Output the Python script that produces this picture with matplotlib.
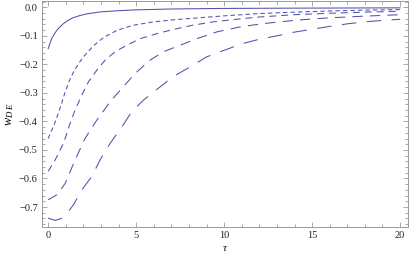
import matplotlib
matplotlib.use("Agg")
import matplotlib.pyplot as plt
from matplotlib.ticker import MultipleLocator

# ---- data ----
tau1 = [0, 0.1, 0.2, 0.35, 0.5, 0.7, 0.85, 1.1, 1.4, 1.8, 2.2, 3, 4, 5, 7, 10, 14, 20]
w1 = [-0.145, -0.127, -0.11, -0.094, -0.08, -0.067, -0.058, -0.047, -0.037, -0.029, -0.023, -0.016,
      -0.012, -0.009, -0.006, -0.004, -0.003, -0.002]

tau2 = [0, 0.35, 0.68, 0.97, 1.2, 1.44, 1.7, 2.0, 2.57, 3.15, 3.9, 4.83, 6, 7.1, 10, 12, 14, 16, 18, 20]
w2 = [-0.46, -0.41, -0.353, -0.296, -0.258, -0.227, -0.2, -0.174, -0.135, -0.106, -0.081, -0.063,
      -0.051, -0.044, -0.03, -0.022, -0.017, -0.013, -0.01, -0.008]

tau3 = [0, 0.4, 0.87, 1.25, 1.53, 1.91, 2.29, 2.77, 3.24, 3.8, 4.47, 5.23, 6.2, 7.1, 8.2, 9.4,
        11, 12, 13, 14, 16, 18, 20]
w3 = [-0.575, -0.535, -0.477, -0.406, -0.36, -0.308, -0.261, -0.22, -0.185, -0.156, -0.133, -0.11,
      -0.092, -0.078, -0.063, -0.051, -0.04, -0.034, -0.03, -0.026, -0.021, -0.017, -0.014]

tau4 = [0, 0.5, 0.97, 1.53, 2.1, 2.77, 3.52, 4.19, 4.94, 5.8, 6.55, 7.5, 8.45, 9.6, 10.9,
        12, 13, 14, 15, 16, 18, 20]
w4 = [-0.675, -0.657, -0.617, -0.535, -0.459, -0.395, -0.331, -0.284, -0.232, -0.185, -0.156,
      -0.133, -0.11, -0.086, -0.069, -0.059, -0.052, -0.046, -0.041, -0.037, -0.031, -0.026]

tau5 = [0, 0.4, 0.8, 1.1, 1.44, 1.91, 2.48, 2.95, 3.52, 4.19, 4.75, 5.42, 6.36, 7.1, 8.07, 9.0,
        9.77, 11, 12, 13, 14, 15, 16, 17, 18, 19, 20]
w5 = [-0.739, -0.747, -0.739, -0.72, -0.692, -0.64, -0.593, -0.535, -0.477, -0.419, -0.366, -0.325,
      -0.279, -0.243, -0.209, -0.174, -0.156, -0.128, -0.112, -0.1, -0.087, -0.077, -0.067, -0.058,
      -0.051, -0.046, -0.042]

xticks = [0, 5, 10, 15, 20]
yticks = [0.0, -0.1, -0.2, -0.3, -0.4, -0.5, -0.6, -0.7]

plt.rcParams['font.family'] = ['Liberation Serif', 'DejaVu Serif']
plt.rcParams['mathtext.fontset'] = 'custom'
plt.rcParams['mathtext.it'] = 'Liberation Serif:italic'
plt.rcParams['mathtext.rm'] = 'Liberation Serif'
plt.rcParams['lines.scale_dashes'] = False

fig = plt.figure(figsize=(4.09, 2.61), dpi=100)
ax = fig.add_axes([42/409, 1 - 227/261, 366/409, 226/261])

col = '#5050b0'
lw = 0.75
ax.plot(tau1, w1, color=col, lw=lw)
ax.plot(tau2, w2, color=col, lw=lw, dashes=(3.2, 2.2))
ax.plot(tau3, w3, color=col, lw=lw, dashes=(5.0, 3.6))
ax.plot(tau4, w4, color=col, lw=lw, dashes=(7.4, 5.2))
ax.plot(tau5, w5, color=col, lw=lw, dashes=(10.5, 7.5))

ax.set_xlim(-0.35, 20.45)
ax.set_ylim(-0.77, 0.022)

ax.set_xticks(xticks)
ax.set_yticks(yticks)
ax.set_xticklabels([str(t) for t in xticks])
ax.set_yticklabels([('%.1f' % v).replace('-', '\u2212') for v in yticks])
ax.xaxis.set_minor_locator(MultipleLocator(1))
ax.yaxis.set_minor_locator(MultipleLocator(0.02))

frame_col = '#9a9a9a'
for s in ax.spines.values():
    s.set_color(frame_col)
    s.set_linewidth(0.7)
ax.tick_params(which='both', direction='in', top=True, right=True, color=frame_col, width=0.6,
               labelsize=7.5, labelcolor='#222222', pad=3)
ax.tick_params(which='major', length=3.5)
ax.tick_params(which='minor', length=2)

ax.set_xlabel(r'$\tau$', fontsize=8, labelpad=3)
ax.set_ylabel(r'$w_{D\;E}$', fontsize=9, labelpad=2)

fig.savefig('out.png', dpi=100)
